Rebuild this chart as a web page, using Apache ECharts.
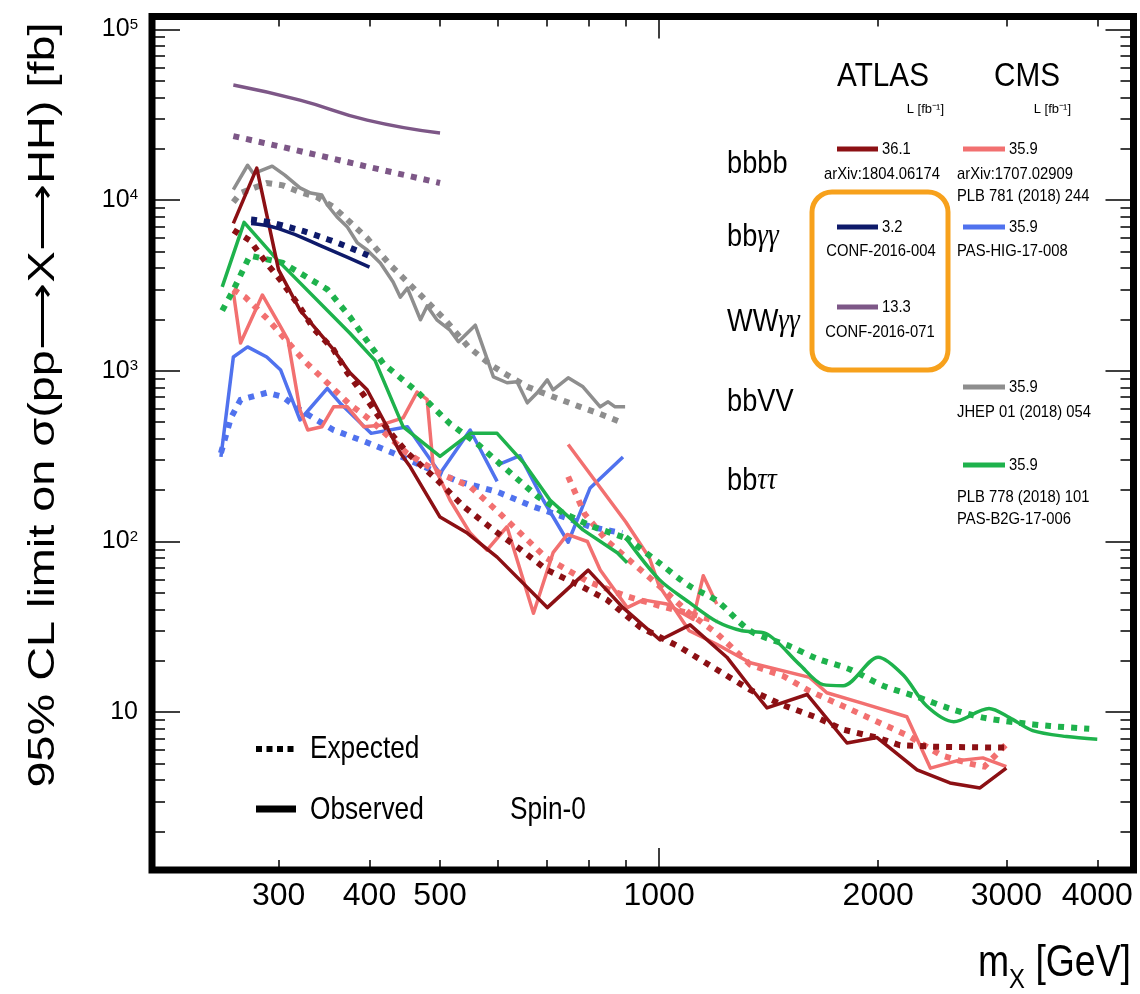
<!DOCTYPE html>
<html>
<head>
<meta charset="utf-8">
<script src="https://cdn.jsdelivr.net/npm/echarts@6/dist/echarts.min.js"></script>
<style>
  html, body { margin: 0; padding: 0; background: #fff; }
  #chart { width: 1140px; height: 994px; }
</style>
</head>
<body>
<div id="chart"></div>
<script>
// limits, [mass GeV, sigma fb]
const atlasBbbbObs = [[260, 7300], [280, 15400], [300, 3900], [321, 2270], [357, 1330], [376, 973], [397, 774], [418, 515], [441, 330], [455, 274], [500, 139], [545, 112], [599, 81], [702, 41], [799, 68], [892, 41], [1003, 26.5], [1103, 32.5], [1239, 21], [1334, 14], [1407, 10.6], [1597, 12.7], [1812, 6.6], [1993, 7.1], [2262, 4.6], [2510, 3.85], [2760, 3.6], [3000, 4.7]];
const atlasBbbbExp = [[260, 6660], [274, 5800], [289, 4250], [302, 3390], [319, 2450], [335, 1770], [357, 1330], [373, 973], [397, 676], [424, 451], [451, 330], [495, 230], [539, 160], [592, 117], [638, 93], [702, 68], [786, 54], [848, 45.5], [942, 31.5], [1069, 24], [1334, 13.5], [1480, 11], [1648, 9.3], [1790, 7.9], [1993, 7.1], [2143, 6.4], [2409, 6.27], [3000, 6.2]];

const cmsBbbbLowObs = [[260, 2890], [266, 1455], [285, 2780], [302, 1810], [309, 1520], [321, 590], [329, 450], [344, 470], [357, 615], [373, 615], [393, 470], [414, 480], [445, 530], [465, 750], [480, 680], [489, 285], [516, 175], [550, 112], [580, 89], [618, 122], [672, 38], [715, 86], [748, 110], [797, 100], [830, 68], [904, 41], [951, 45.5], [1025, 43], [1113, 35], [1150, 63], [1200, 43]];
const cmsBbbbLowExp = [[260, 3000], [270, 2700], [290, 2000], [300, 1700], [325, 1150], [350, 850], [375, 640], [400, 520], [450, 330], [500, 250], [550, 210], [600, 150], [700, 80], [800, 58], [900, 48], [1000, 42], [1100, 38], [1200, 34]];
const cmsBbbbHighObs = [[750, 370], [900, 130], [970, 80], [1000, 55], [1100, 30], [1200, 25], [1334, 19.5], [1610, 16], [1700, 13], [1900, 11.3], [2190, 9.4], [2360, 4.7], [2570, 5.2], [2785, 5.4], [3000, 4.8]];
const cmsBbbbHighExp = [[750, 240], [790, 145], [850, 100], [900, 81], [1000, 55], [1100, 38], [1200, 29], [1334, 19], [1480, 16.3], [1610, 13.3], [1830, 10.4], [2030, 8.5], [2210, 7.2], [2440, 5.6], [2670, 5.0], [2800, 4.8], [3000, 6.5]];

const atlasBbggObs = [[275, 7300], [300, 6800], [350, 5200], [400, 4050]];
const atlasBbggExp = [[275, 7700], [300, 7200], [350, 5900], [400, 4700]];

const cmsBbggObsLow = [[250, 313], [260, 1205], [272, 1380], [289, 1205], [302, 1010], [321, 515], [350, 790], [364, 650], [402, 430], [451, 470], [500, 250], [550, 450], [599, 225]];
const cmsBbggObsHigh = [[599, 280], [644, 318], [693, 175], [750, 99], [804, 206], [892, 313]];
const cmsBbggExp = [[250, 330], [258, 530], [266, 676], [289, 744], [304, 704], [321, 590], [357, 450], [397, 380], [431, 330], [489, 260], [530, 225], [600, 195], [672, 160], [748, 137], [804, 122], [890, 112]];

const atlasWwggObs = [[260, 47200], [321, 38500], [397, 29400], [500, 24700]];
const atlasWwggExp = [[260, 23700], [300, 20700], [400, 15600], [500, 12600]];

const cmsBbvvObs = [[260, 11500], [272, 16000], [277, 14300], [294, 15800], [306, 14000], [321, 11800], [332, 11000], [344, 10700], [350, 9360], [361, 7960], [373, 6950], [385, 5610], [397, 5100], [414, 4280], [431, 3310], [441, 2700], [451, 3050], [470, 1990], [480, 2400], [495, 1990], [516, 1730], [530, 1480], [559, 1850], [592, 922], [618, 851], [638, 862], [659, 649], [680, 744], [702, 885], [715, 774], [750, 910], [786, 806], [830, 615], [851, 658], [870, 615], [898, 615]];
const cmsBbvvExp = [[260, 9740], [266, 11000], [289, 12600], [304, 12200], [321, 11150], [339, 10400], [357, 9110], [376, 7440], [397, 5990], [427, 4170], [470, 2780], [508, 1990], [547, 1380], [586, 1090], [611, 973], [659, 806], [715, 704], [779, 615], [822, 567], [884, 502]];

const cmsBbttLowObs = [[251, 3100], [269, 7400], [299, 4450], [376, 1660], [407, 1150], [445, 469], [500, 315], [550, 430], [599, 430], [651, 290], [708, 175], [786, 117], [876, 86], [904, 75]];
const cmsBbttLowExp = [[251, 2250], [260, 2970], [274, 4730], [304, 4290], [350, 3000], [376, 2070], [418, 1100], [467, 743], [516, 490], [562, 375], [611, 274], [680, 184], [740, 146], [811, 122], [892, 106]];
const cmsBbttHighObs = [[900, 105], [1000, 60], [1100, 44], [1200, 34], [1300, 30], [1400, 29], [1560, 19], [1680, 14.5], [1790, 14.3], [2000, 21], [2165, 16.5], [2330, 10.9], [2540, 8.8], [2840, 10.5], [3030, 9.3], [3260, 7.8], [3630, 7.2], [4000, 6.95]];
const cmsBbttHighExp = [[900, 106], [1000, 75], [1100, 55], [1200, 45], [1334, 30], [1510, 24.4], [1648, 20.6], [1830, 17.8], [2030, 14.3], [2262, 12.3], [2510, 10.5], [2785, 9.3], [3100, 8.7], [3443, 8.3], [3900, 8.0]];

const xTickLabels = [300, 400, 500, 1000, 2000, 3000, 4000];
const xMinorTicks = [300, 400, 500, 600, 700, 800, 900, 2000, 3000, 4000];
const xMajorTicks = [1000];
const yTickLabels = [10, 100, 1000, 10000, 100000];

const channels = ['bbbb', 'bb{g|γγ}', 'WW{g|γγ}', 'bbVV', 'bb{g|ττ}'];

const SANS = "'Liberation Sans', Arial, sans-serif";
const SERIF = "'Liberation Serif', 'DejaVu Serif', serif";

const colors = {
  atlasBbbb: '#8c1014',
  cmsBbbb: '#f27070',
  atlasBbgg: '#0e1a6a',
  cmsBbgg: '#5072ee',
  atlasWwgg: '#7d5787',
  cmsBbvv: '#8e8e8e',
  cmsBbtt: '#1eb24c',
};

const yMinorTicks = [];
[1, 10, 100, 1000, 10000].forEach(d => {
  for (let k = 2; k <= 9; k++) yMinorTicks.push(k * d);
});

function observed(name, data, color, smooth) {
  return {
    name, type: 'line', data, symbol: 'none', smooth: smooth || false,
    silent: true,
    lineStyle: { color, width: 3.5, join: 'round' },
  };
}

function expected(name, data, color, smooth) {
  return {
    name, type: 'line', data, symbol: 'none', smooth: smooth || false,
    silent: true,
    lineStyle: { color, width: 6, type: [6, 7], cap: 'butt', join: 'miter' },
  };
}

function xAxisDef(position, ticks, len, labels) {
  return {
    type: 'log', logBase: 10, min: 201, max: 4486, position,
    axisLine: { show: false },
    splitLine: { show: false },
    axisTick: { show: true, inside: true, length: len, customValues: ticks, lineStyle: { color: '#000', width: 1.5 } },
    axisLabel: labels ? {
      show: true, customValues: xTickLabels, margin: 10, hideOverlap: false,
      formatter: v => String(Math.round(v)),
      fontSize: 32, fontFamily: SANS, color: '#000',
    } : { show: false },
  };
}

function yAxisDef(position, ticks, len, labels) {
  return {
    type: 'log', logBase: 10, min: 1.19, max: 119000, position,
    axisLine: { show: false },
    splitLine: { show: false },
    axisTick: { show: true, inside: true, length: len, customValues: ticks, lineStyle: { color: '#000', width: 1.5 } },
    axisLabel: labels ? {
      show: true, customValues: yTickLabels, margin: 14,
      formatter: v => {
        const e = Math.round(Math.log10(v));
        return e === 1 ? '{b|10}' : '{b|10}{s|' + e + '}';
      },
      rich: {
        b: { fontSize: 25, fontFamily: SANS, color: '#000' },
        s: { fontSize: 15, fontFamily: SANS, color: '#000', verticalAlign: 'top', padding: [0, 0, 10, 0] },
      },
    } : { show: false },
  };
}

// legend block, drawn as graphic text (squeezed a little, like the plot's condensed font)
const graphics = [];
function txt(x, y, text, size, sx, extra) {
  graphics.push({
    type: 'text', x, y, silent: true, scaleX: sx,
    style: Object.assign({
      text, fontSize: size, fontFamily: SANS, fill: '#000',
      align: 'left', verticalAlign: 'middle',
    }, extra || {}),
  });
}
function swatch(x1, x2, y, color, width, dash) {
  graphics.push({
    type: 'line', silent: true,
    shape: { x1, y1: y, x2, y2: y },
    style: { stroke: color, lineWidth: width, lineDash: dash || null },
  });
}

txt(883, 77, 'ATLAS', 33, 0.9, { align: 'center' });
txt(1027, 77, 'CMS', 33, 0.9, { align: 'center' });
txt(944, 109, 'L [fb⁻¹]', 13, 1, { align: 'right' });
txt(1071, 109, 'L [fb⁻¹]', 13, 1, { align: 'right' });

const rowY = [164, 237, 322, 402, 481];
channels.forEach((c, i) => {
  txt(727, rowY[i], c, 32, 0.85, { rich: { g: { fontSize: 32, fontFamily: SERIF, fontStyle: 'italic' } } });
});

// ATLAS column
swatch(837, 878, 149, colors.atlasBbbb, 5);
txt(882, 149, '36.1', 17, 0.87);
txt(882, 174, 'arXiv:1804.06174', 17, 0.87, { align: 'center' });
swatch(837, 878, 227, colors.atlasBbgg, 5);
txt(882, 227, '3.2', 17, 0.87);
txt(881, 251, 'CONF-2016-004', 17, 0.87, { align: 'center' });
swatch(837, 878, 307, colors.atlasWwgg, 5);
txt(882, 307, '13.3', 17, 0.87);
txt(880, 332, 'CONF-2016-071', 17, 0.87, { align: 'center' });

// CMS column
swatch(963, 1005, 149, colors.cmsBbbb, 5);
txt(1009, 149, '35.9', 17, 0.87);
txt(957, 174, 'arXiv:1707.02909', 17, 0.87);
txt(957, 196, 'PLB 781 (2018) 244', 17, 0.87);
swatch(963, 1005, 227, colors.cmsBbgg, 5);
txt(1009, 227, '35.9', 17, 0.87);
txt(957, 251, 'PAS-HIG-17-008', 17, 0.87);
swatch(963, 1005, 387, colors.cmsBbvv, 5);
txt(1009, 387, '35.9', 17, 0.87);
txt(957, 412, 'JHEP 01 (2018) 054', 17, 0.87);
swatch(963, 1005, 465, colors.cmsBbtt, 5);
txt(1009, 465, '35.9', 17, 0.87);
txt(957, 497, 'PLB 778 (2018) 101', 17, 0.87);
txt(957, 519, 'PAS-B2G-17-006', 17, 0.87);

// highlight box
graphics.push({
  type: 'rect', silent: true,
  shape: { x: 812, y: 192, width: 136, height: 178, r: 20 },
  style: { fill: 'none', stroke: '#f7a11c', lineWidth: 5 },
});

// line style key
swatch(256, 296, 749, '#000', 6, [6, 4.5]);
txt(310, 749, 'Expected', 32, 0.82);
swatch(256, 296, 809, '#000', 7);
txt(310, 810, 'Observed', 32, 0.82);
txt(510, 810, 'Spin-0', 32, 0.82);

// axis titles
graphics.push({
  type: 'text', silent: true, x: 44, y: 405, rotation: Math.PI / 2, scaleX: 1.3,
  style: {
    text: '95% CL limit on σ(pp⟶X⟶HH) [fb]', fontSize: 36,
    fontFamily: SANS, fill: '#000',
    align: 'center', verticalAlign: 'middle',
  },
});
graphics.push({
  type: 'text', silent: true, x: 1131, y: 968, scaleX: 0.85,
  style: {
    text: '{m|m}{x|X}{m| [GeV]}', align: 'right', verticalAlign: 'middle',
    rich: {
      m: { fontSize: 44, fontFamily: SANS, fill: '#000', verticalAlign: 'top' },
      x: { fontSize: 28, fontFamily: SANS, fill: '#000', verticalAlign: 'bottom', padding: [24, 0, 0, 0] },
    },
  },
});

const chart = echarts.init(document.getElementById('chart'));
chart.setOption({
  animation: false,
  backgroundColor: '#fff',
  grid: {
    left: 152, right: 6.5, top: 16.5, bottom: 124,
    show: true, borderColor: '#000', borderWidth: 7, backgroundColor: 'transparent',
  },
  xAxis: [
    xAxisDef('bottom', xMinorTicks, 10, true),
    xAxisDef('bottom', xMajorTicks, 22, false),
    xAxisDef('top', xMinorTicks, 10, false),
    xAxisDef('top', xMajorTicks, 22, false),
  ],
  yAxis: [
    yAxisDef('left', yMinorTicks, 13, true),
    yAxisDef('left', yTickLabels, 28, false),
    yAxisDef('right', yMinorTicks, 13, false),
    yAxisDef('right', yTickLabels, 28, false),
  ],
  graphic: graphics,
  series: [
    observed('ATLAS WWγγ obs', atlasWwggObs, colors.atlasWwgg, true),
    expected('ATLAS WWγγ exp', atlasWwggExp, colors.atlasWwgg),
    observed('CMS bbVV obs', cmsBbvvObs, colors.cmsBbvv),
    expected('CMS bbVV exp', cmsBbvvExp, colors.cmsBbvv),
    observed('CMS bbγγ obs low', cmsBbggObsLow, colors.cmsBbgg),
    observed('CMS bbγγ obs high', cmsBbggObsHigh, colors.cmsBbgg),
    expected('CMS bbγγ exp', cmsBbggExp, colors.cmsBbgg),
    observed('CMS bbbb obs low', cmsBbbbLowObs, colors.cmsBbbb),
    expected('CMS bbbb exp low', cmsBbbbLowExp, colors.cmsBbbb),
    observed('CMS bbbb obs high', cmsBbbbHighObs, colors.cmsBbbb),
    expected('CMS bbbb exp high', cmsBbbbHighExp, colors.cmsBbbb),
    observed('CMS bbττ obs low', cmsBbttLowObs, colors.cmsBbtt),
    expected('CMS bbττ exp low', cmsBbttLowExp, colors.cmsBbtt),
    observed('CMS bbττ obs high', cmsBbttHighObs, colors.cmsBbtt, 0.3),
    expected('CMS bbττ exp high', cmsBbttHighExp, colors.cmsBbtt, 0.3),
    observed('ATLAS bbbb obs', atlasBbbbObs, colors.atlasBbbb),
    expected('ATLAS bbbb exp', atlasBbbbExp, colors.atlasBbbb),
    observed('ATLAS bbγγ obs', atlasBbggObs, colors.atlasBbgg, true),
    expected('ATLAS bbγγ exp', atlasBbggExp, colors.atlasBbgg, true),
  ],
});
</script>
</body>
</html>
